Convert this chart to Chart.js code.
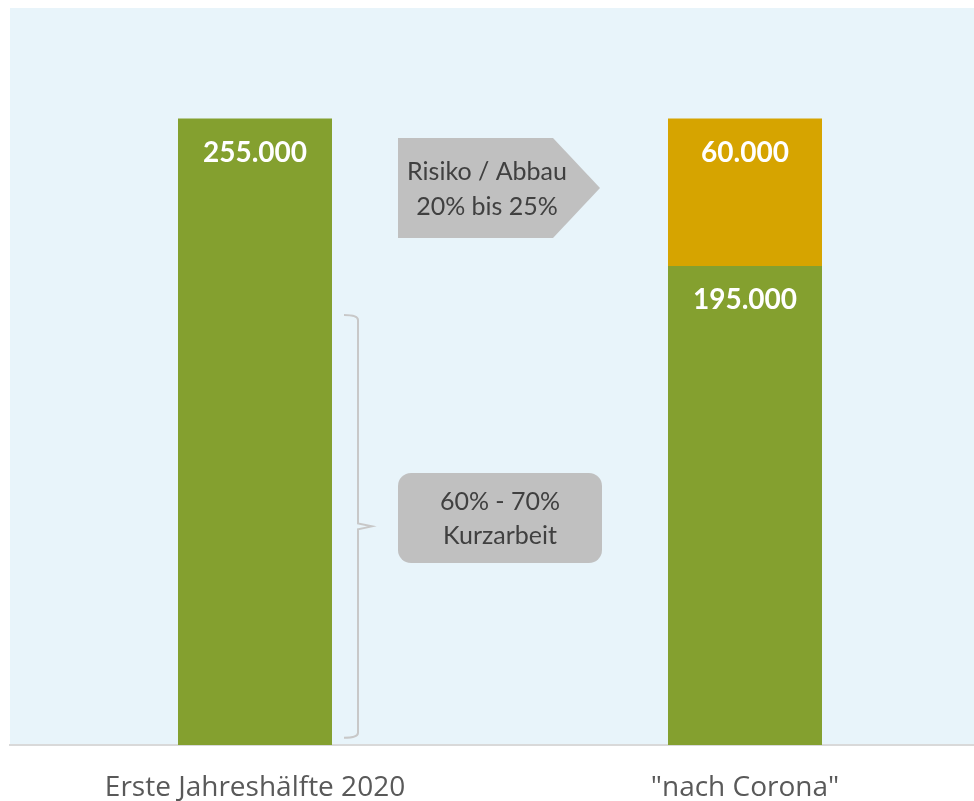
<!DOCTYPE html>
<html lang="de">
<head>
<meta charset="utf-8">
<title>Beschäftigte vor und nach Corona</title>
<script src="https://cdn.jsdelivr.net/npm/chart.js@4/dist/chart.umd.min.js"></script>
<style>
  html, body { margin: 0; padding: 0; background: #fff; overflow: hidden; }
  body { width: 974px; height: 801px; }
  canvas { display: block; }
</style>
</head>
<body>
<canvas id="chart" width="990" height="801"></canvas>
<script>
const categories = ['Erste Jahreshälfte 2020', '"nach Corona"'];
const remaining = [255000, 195000];
const atRisk = [null, 60000];
const riskNote = ['Risiko / Abbau', '20% bis 25%'];
const shortTimeNote = ['60% - 70%', 'Kurzarbeit'];
const bracketRange = [3000, 175000];

const GREEN = '#84a02f';
const ORANGE = '#d6a400';
const PANEL = '#e8f4fa';
const SHAPE = '#c0c0c0';
const FONT = "Lato, 'Open Sans', sans-serif";
const AXIS_FONT = "'Open Sans', Lato, sans-serif";

const fmt = v => v.toLocaleString('de-DE');

// light blue panel behind the plot
const panelBg = {
    id: 'panelBg',
    beforeDraw(chart) {
        const { ctx, chartArea: a } = chart;
        ctx.save();
        ctx.fillStyle = PANEL;
        ctx.fillRect(a.left, a.top, a.right - a.left, a.bottom - a.top);
        ctx.restore();
    }
};

// white value labels near the top of each segment
const valueLabels = {
    id: 'valueLabels',
    afterDatasetsDraw(chart) {
        const ctx = chart.ctx;
        ctx.save();
        ctx.fillStyle = '#fff';
        ctx.font = 'bold 28px ' + FONT;
        ctx.textAlign = 'center';
        ctx.textBaseline = 'middle';
        chart.data.datasets.forEach((ds, di) => {
            chart.getDatasetMeta(di).data.forEach((bar, i) => {
                const v = ds.data[i];
                if (v == null) return;
                ctx.fillText(fmt(v), bar.x, bar.y + 34);
            });
        });
        ctx.restore();
    }
};

// arrow, callout box and bracket between the bars
const notes = {
    id: 'notes',
    afterDraw(chart) {
        const { ctx, scales: { x, y } } = chart;
        const left = chart.getDatasetMeta(0).data[0];
        const midX = (x.getPixelForValue(0) + x.getPixelForValue(1)) / 2;
        ctx.save();

        // arrow pointing to the right bar
        const ax0 = midX - 102, ax1 = midX + 100, aTop = 138, aBot = 238, aTip = 47;
        ctx.fillStyle = SHAPE;
        ctx.beginPath();
        ctx.moveTo(ax0, aTop);
        ctx.lineTo(ax1 - aTip, aTop);
        ctx.lineTo(ax1, (aTop + aBot) / 2);
        ctx.lineTo(ax1 - aTip, aBot);
        ctx.lineTo(ax0, aBot);
        ctx.closePath();
        ctx.fill();

        ctx.fillStyle = '#404040';
        ctx.font = '25px ' + FONT;
        ctx.textAlign = 'center';
        ctx.textBaseline = 'middle';
        ctx.fillText(riskNote[0], ax0 + 89, 172);
        ctx.fillText(riskNote[1], ax0 + 89, 207);

        // rounded callout
        const bx0 = midX - 102, bx1 = midX + 102, bTop = 473, bBot = 563;
        ctx.fillStyle = SHAPE;
        ctx.beginPath();
        ctx.roundRect(bx0, bTop, bx1 - bx0, bBot - bTop, 13);
        ctx.fill();
        ctx.fillStyle = '#404040';
        ctx.fillText(shortTimeNote[0], midX, 502);
        ctx.fillText(shortTimeNote[1], midX, 536);

        // curly bracket beside the left bar
        const bxLine = left.x + left.width / 2 + 26;
        const yTop = y.getPixelForValue(bracketRange[1]);
        const yBot = y.getPixelForValue(bracketRange[0]);
        const yMid = (yTop + yBot) / 2;
        ctx.strokeStyle = '#c8c8c8';
        ctx.lineWidth = 2;
        ctx.beginPath();
        ctx.moveTo(bxLine - 14, yTop);
        ctx.quadraticCurveTo(bxLine, yTop, bxLine, yTop + 5);
        ctx.lineTo(bxLine, yMid - 3);
        ctx.lineTo(bxLine + 14, yMid);
        ctx.lineTo(bxLine, yMid + 3);
        ctx.lineTo(bxLine, yBot - 5);
        ctx.quadraticCurveTo(bxLine, yBot, bxLine - 14, yBot);
        ctx.stroke();

        ctx.restore();
    }
};

new Chart(document.getElementById('chart'), {
    type: 'bar',
    data: {
        labels: categories,
        datasets: [
            { label: 'Beschäftigte', data: remaining, backgroundColor: GREEN },
            { label: 'Risiko', data: atRisk, backgroundColor: ORANGE }
        ]
    },
    options: {
        responsive: false,
        animation: false,
        devicePixelRatio: 1,
        layout: { padding: { left: 10, top: 8, right: 0, bottom: 0 } },
        datasets: { bar: { categoryPercentage: 1, barPercentage: 0.3143 } },
        plugins: { legend: { display: false }, tooltip: { enabled: false } },
        scales: {
            x: {
                stacked: true,
                grid: { display: false, drawTicks: false },
                border: { color: '#d9d9d9', width: 2 },
                ticks: { color: '#595959', font: { family: AXIS_FONT, size: 28 }, padding: 26, maxRotation: 0 },
                afterFit: s => { s.height = 56; }
            },
            y: {
                display: false,
                stacked: true,
                min: 0,
                max: 300000
            }
        }
    },
    plugins: [panelBg, valueLabels, notes]
});
</script>
</body>
</html>
